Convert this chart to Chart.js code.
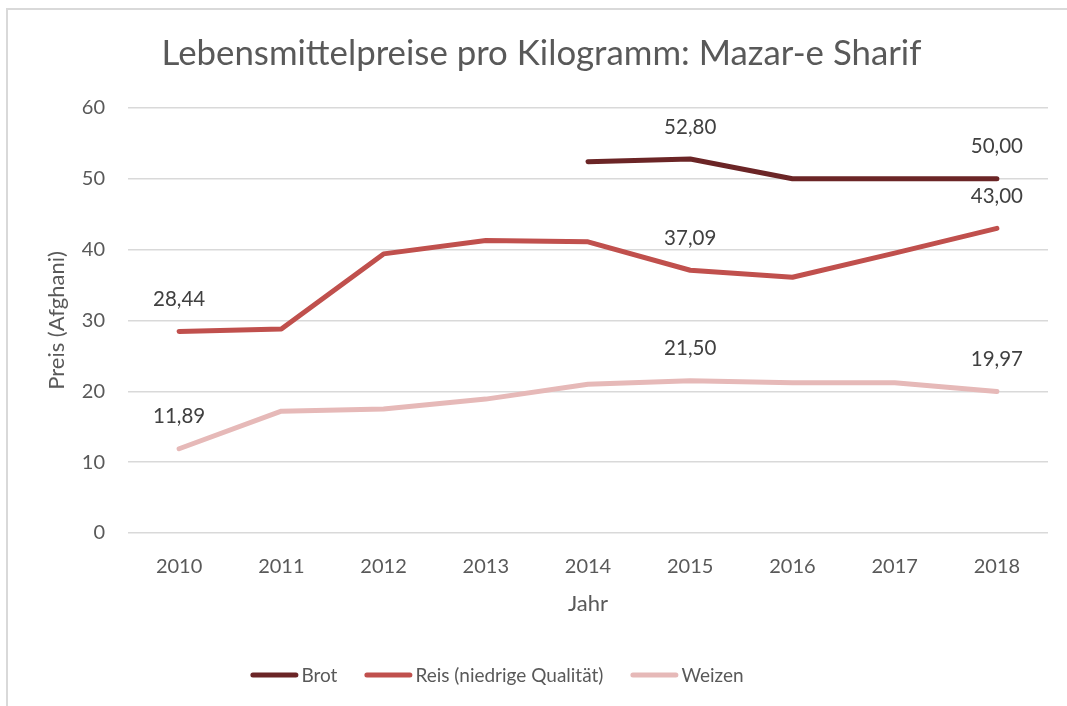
<!DOCTYPE html>
<html>
<head>
<meta charset="utf-8">
<script src="https://cdn.jsdelivr.net/npm/chart.js@4.4.1/dist/chart.umd.min.js"></script>
<style>
  html, body { margin: 0; padding: 0; background: #ffffff; overflow: hidden; }
  #wrap { position: relative; width: 1067px; height: 706px; }
  #frame { position: absolute; left: 6px; top: 8px; width: 2000px; height: 2000px; border: 2px solid #d9d9d9; box-sizing: border-box; }
  canvas { position: absolute; left: 0; top: 0; }
</style>
</head>
<body>
<div id="wrap">
  <div id="frame"></div>
  <canvas id="c" width="1067" height="706"></canvas>
</div>
<script>
const years = ['2010', '2011', '2012', '2013', '2014', '2015', '2016', '2017', '2018'];
const brot = [null, null, null, null, 52.4, 52.8, 50.0, 50.0, 50.0];
const reis = [28.44, 28.8, 39.4, 41.3, 41.1, 37.09, 36.1, 39.5, 43.0];
const weizen = [11.89, 17.2, 17.5, 18.9, 21.0, 21.5, 21.2, 21.2, 19.97];
const brotLabelIdx = [5, 8];
const reisLabelIdx = [0, 5, 8];
const weizenLabelIdx = [0, 5, 8];
const seriesNames = ['Brot', 'Reis (niedrige Qualität)', 'Weizen'];
const yTicks = [0, 10, 20, 30, 40, 50, 60];
const titleText = 'Lebensmittelpreise pro Kilogramm: Mazar-e Sharif';
const yTitle = 'Preis (Afghani)';
const xTitle = 'Jahr';

const colors = ['#6b2526', '#c0504d', '#e6b9b8'];
const FONT = 'Lato';
const textGray = '#595959';
const PAD_LEFT = 35;

const labelPlugin = {
  id: 'valueLabels',
  afterDatasetsDraw(chart) {
    const ctx = chart.ctx;
    ctx.save();
    ctx.font = '20.5px ' + FONT;
    ctx.fillStyle = '#404040';
    ctx.textAlign = 'center';
    ctx.textBaseline = 'middle';
    chart.data.datasets.forEach((ds, di) => {
      const meta = chart.getDatasetMeta(di);
      (ds.labelIdx || []).forEach(i => {
        const pt = meta.data[i];
        const v = ds.data[i];
        if (!pt || v == null) return;
        ctx.fillText(v.toFixed(2).replace('.', ','), pt.x, pt.y - 32);
      });
    });
    ctx.restore();
  }
};

const legendPlugin = {
  id: 'lineLegend',
  afterDraw(chart) {
    const ctx = chart.ctx;
    ctx.save();
    ctx.font = '19px ' + FONT;
    const lineW = 48, gapText = 3, gapItem = 27, cy = 675, centerX = 497;
    const items = chart.data.datasets.map(ds => ({
      label: ds.label, color: ds.borderColor, w: ctx.measureText(ds.label).width
    }));
    let total = 0;
    items.forEach((it, k) => { total += lineW + gapText + it.w + (k < items.length - 1 ? gapItem : 0); });
    let x = centerX - total / 2;
    items.forEach(it => {
      ctx.strokeStyle = it.color;
      ctx.lineWidth = 5;
      ctx.lineCap = 'round';
      ctx.beginPath();
      ctx.moveTo(x + 2.5, cy);
      ctx.lineTo(x + lineW - 2.5, cy);
      ctx.stroke();
      ctx.fillStyle = textGray;
      ctx.textAlign = 'left';
      ctx.textBaseline = 'middle';
      ctx.fillText(it.label, x + lineW + gapText, cy + 1);
      x += lineW + gapText + it.w + gapItem;
    });
    ctx.restore();
  }
};

const mkDs = (label, data, color, labelIdx) => ({
  label, data, labelIdx,
  borderColor: color, backgroundColor: color,
  borderWidth: 5, borderCapStyle: 'round', borderJoinStyle: 'round',
  pointRadius: 0, pointHoverRadius: 0, tension: 0, spanGaps: false, fill: false
});

new Chart(document.getElementById('c'), {
  type: 'line',
  data: {
    labels: years,
    datasets: [
      mkDs(seriesNames[0], brot, colors[0], brotLabelIdx),
      mkDs(seriesNames[1], reis, colors[1], reisLabelIdx),
      mkDs(seriesNames[2], weizen, colors[2], weizenLabelIdx)
    ]
  },
  options: {
    responsive: false,
    animation: false,
    events: [],
    layout: { padding: { left: PAD_LEFT, right: 19, top: 0, bottom: 88 } },
    plugins: {
      legend: { display: false },
      tooltip: { enabled: false },
      title: {
        display: true, text: titleText, color: textGray,
        font: { family: FONT, size: 34.8, weight: 'normal' },
        padding: { top: 33, bottom: 33.2 }
      }
    },
    scales: {
      x: {
        offset: true,
        grid: { display: false, offset: true },
        border: { display: false },
        ticks: { color: textGray, font: { family: FONT, size: 20 }, padding: 14, maxRotation: 0 },
        title: { display: true, text: xTitle, color: textGray, font: { family: FONT, size: 22 }, padding: { top: 0, bottom: 1 } },
        afterFit(s) { s.height = 85; }
      },
      y: {
        min: 0, max: 60,
        afterBuildTicks(s) { s.ticks = yTicks.map(v => ({ value: v })); },
        grid: { color: '#d9d9d9', lineWidth: 1.5, drawTicks: false },
        border: { display: false },
        ticks: { color: textGray, font: { family: FONT, size: 20 }, padding: 23 },
        title: { display: true, text: yTitle, color: textGray, font: { family: FONT, size: 22 }, padding: { top: 9, bottom: 0 } },
        afterFit(s) { s.width = 128 - PAD_LEFT; }
      }
    }
  },
  plugins: [labelPlugin, legendPlugin]
});
</script>
</body>
</html>
